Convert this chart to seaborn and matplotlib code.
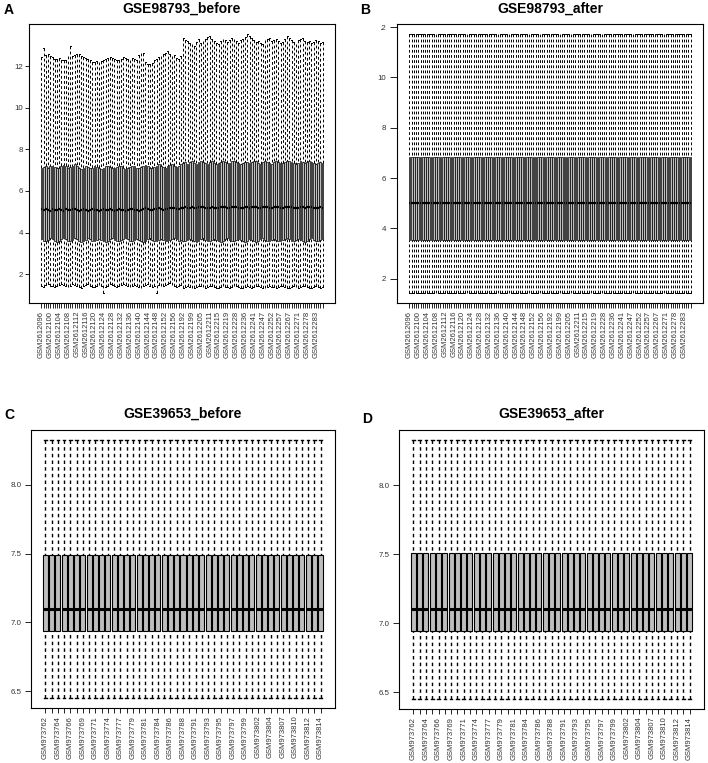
import numpy as np
import pandas as pd
import matplotlib
matplotlib.use("Agg")
import matplotlib.pyplot as plt
from matplotlib.transforms import Bbox, TransformedBbox
import seaborn as sns

plt.rcParams['font.family'] = ['Liberation Sans', 'DejaVu Sans']
plt.rcParams['lines.scale_dashes'] = False

# ---- GSE98793 (128 arrays) ----
gse98793_ids = ['GSM26120%02d' % k for k in range(96, 100)] + ['GSM2612%03d' % k for k in range(100, 160)] + \
    ['GSM2612%03d' % k for k in [
        192, 193, 195, 197, 199, 200, 202, 203, 205, 207, 208, 210, 211, 212, 213, 214,
        215, 216, 217, 218, 219, 221, 224, 226, 228, 230, 232, 234, 236, 237, 238, 240,
        241, 243, 244, 245, 247, 248, 250, 251, 252, 253, 255, 256, 257, 259, 262, 264,
        267, 268, 269, 270, 271, 273, 275, 276, 278, 279, 280, 282, 283, 284, 285, 287]]

before_max = [
    12.45, 12.85, 12.55, 12.60, 12.50, 12.45, 12.35, 12.35, 12.40, 12.30, 12.30, 12.30,
    12.50, 12.95, 12.50, 12.55, 12.60, 12.60, 12.50, 12.45, 12.40, 12.35, 12.30, 12.20,
    12.20, 12.25, 12.20, 12.25, 12.30, 12.35, 12.40, 12.45, 12.40, 12.35, 12.30, 12.30, 12.35, 12.45, 12.40,
    12.35, 12.30, 12.40, 12.35, 12.30, 12.55, 12.65, 12.65, 12.20, 12.10, 12.10, 12.15, 12.30, 12.35, 12.45,
    12.50, 12.60, 12.65, 12.70, 12.60, 12.50, 12.55, 12.40, 12.35, 12.50,
    13.35, 13.25, 13.20, 13.10, 13.05, 12.95, 13.15, 13.30, 13.10, 13.20, 13.30, 13.40,
    13.45, 13.30, 13.20, 13.10, 13.05, 13.20, 13.30, 13.25, 13.15, 13.25, 13.35, 13.30, 13.20, 13.10,
    13.25, 13.30, 13.40, 13.52, 13.45, 13.35, 13.25, 13.15, 13.20, 13.10, 13.05, 13.25, 13.30, 13.35, 13.20,
    13.25, 13.30, 13.20, 13.10, 13.15, 13.30, 13.45, 13.35, 13.25, 13.15, 13.05, 13.25, 13.30, 13.35,
    13.20, 13.15, 13.20, 13.10, 13.15, 13.25, 13.20, 13.10, 13.15]
before_q3 = [
    7.10, 7.15, 7.20, 7.12, 7.18, 7.22, 7.15, 7.08, 7.12, 7.20, 7.25, 7.18, 7.10, 7.15, 7.22, 7.28,
    7.20, 7.12, 7.05, 7.10, 7.18, 7.15, 7.08, 7.12, 7.20, 7.15, 7.10, 7.05, 7.12, 7.18, 7.22, 7.15,
    7.10, 7.08, 7.15, 7.20, 7.18, 7.12, 7.05, 7.10, 7.15, 7.22, 7.18, 7.10, 7.08, 7.15, 7.20, 7.25,
    7.18, 7.12, 7.08, 7.15, 7.22, 7.28, 7.20, 7.15, 7.10, 7.18, 7.25, 7.30, 7.22, 7.15, 7.20, 7.28,
    7.35, 7.40, 7.32, 7.38, 7.42, 7.35, 7.30, 7.38, 7.45, 7.40, 7.35, 7.32, 7.38, 7.42, 7.36, 7.30,
    7.35, 7.40, 7.44, 7.38, 7.33, 7.36, 7.42, 7.46, 7.40, 7.35, 7.30, 7.36, 7.40, 7.38, 7.34, 7.40,
    7.45, 7.42, 7.36, 7.32, 7.38, 7.43, 7.40, 7.35, 7.32, 7.38, 7.44, 7.40, 7.36, 7.33, 7.38, 7.42,
    7.46, 7.40, 7.35, 7.32, 7.36, 7.42, 7.38, 7.34, 7.38, 7.44, 7.40, 7.35, 7.30, 7.36, 7.40, 7.34]
before_med = [
    5.12, 5.08, 5.15, 5.10, 5.05, 5.12, 5.10, 5.08, 5.14, 5.10, 5.06, 5.12, 5.08, 5.10, 5.15, 5.12,
    5.08, 5.05, 5.10, 5.12, 5.08, 5.06, 5.10, 5.14, 5.10, 5.08, 5.05, 5.10, 5.12, 5.08, 5.10, 5.14,
    5.10, 5.06, 5.08, 5.12, 5.10, 5.08, 5.05, 5.10, 5.12, 5.15, 5.10, 5.08, 5.06, 5.10, 5.12, 5.16,
    5.12, 5.10, 5.08, 5.12, 5.15, 5.18, 5.14, 5.10, 5.12, 5.15, 5.18, 5.20, 5.16, 5.12, 5.15, 5.18,
    5.20, 5.22, 5.18, 5.20, 5.24, 5.20, 5.18, 5.22, 5.25, 5.22, 5.20, 5.18, 5.20, 5.23, 5.20, 5.18,
    5.20, 5.22, 5.25, 5.22, 5.18, 5.20, 5.23, 5.25, 5.22, 5.20, 5.18, 5.20, 5.22, 5.21, 5.19, 5.22,
    5.24, 5.22, 5.20, 5.18, 5.21, 5.24, 5.22, 5.20, 5.18, 5.21, 5.24, 5.22, 5.20, 5.18, 5.21, 5.23,
    5.25, 5.22, 5.20, 5.18, 5.20, 5.23, 5.21, 5.19, 5.21, 5.24, 5.22, 5.20, 5.18, 5.20, 5.22, 5.20]
before_q1 = [
    3.70, 3.62, 3.58, 3.65, 3.72, 3.68, 3.60, 3.55, 3.62, 3.70, 3.75, 3.68, 3.60, 3.58, 3.65, 3.72,
    3.68, 3.62, 3.56, 3.60, 3.66, 3.72, 3.68, 3.62, 3.58, 3.64, 3.70, 3.66, 3.60, 3.56, 3.62, 3.68,
    3.72, 3.66, 3.60, 3.58, 3.64, 3.70, 3.74, 3.68, 3.62, 3.58, 3.64, 3.70, 3.66, 3.60, 3.56, 3.62,
    3.68, 3.72, 3.66, 3.60, 3.58, 3.64, 3.70, 3.66, 3.62, 3.58, 3.64, 3.70, 3.74, 3.68, 3.62, 3.66,
    3.62, 3.58, 3.64, 3.70, 3.66, 3.60, 3.56, 3.62, 3.68, 3.72, 3.66, 3.60, 3.58, 3.64, 3.70, 3.66,
    3.60, 3.56, 3.62, 3.68, 3.72, 3.66, 3.62, 3.58, 3.64, 3.70, 3.66, 3.60, 3.56, 3.62, 3.68, 3.64,
    3.60, 3.56, 3.62, 3.68, 3.72, 3.66, 3.60, 3.58, 3.64, 3.70, 3.66, 3.62, 3.58, 3.64, 3.70, 3.74,
    3.68, 3.62, 3.58, 3.64, 3.70, 3.66, 3.60, 3.56, 3.62, 3.68, 3.72, 3.66, 3.60, 3.58, 3.64, 3.68]
before_min = [
    1.45, 1.40, 1.48, 1.52, 1.46, 1.42, 1.38, 1.44, 1.50, 1.54, 1.48, 1.42, 1.40, 1.46, 1.52, 1.50,
    1.44, 1.40, 1.36, 1.42, 1.48, 1.52, 1.46, 1.40, 1.38, 1.44, 1.50, 1.46, 1.12, 1.40, 1.46, 1.52,
    1.48, 1.42, 1.38, 1.44, 1.50, 1.54, 1.48, 1.42, 1.38, 1.44, 1.50, 1.46, 1.40, 1.36, 1.42, 1.48,
    1.52, 1.46, 1.40, 1.44, 1.12, 1.50, 1.46, 1.42, 1.48, 1.52, 1.56, 1.50, 1.44, 1.40, 1.46, 1.50,
    1.35, 1.38, 1.42, 1.40, 1.36, 1.34, 1.38, 1.42, 1.45, 1.40, 1.36, 1.38, 1.42, 1.44, 1.40, 1.36,
    1.34, 1.38, 1.42, 1.40, 1.37, 1.35, 1.38, 1.42, 1.44, 1.40, 1.36, 1.34, 1.38, 1.42, 1.40, 1.36,
    1.38, 1.42, 1.45, 1.40, 1.36, 1.34, 1.38, 1.42, 1.40, 1.37, 1.35, 1.38, 1.42, 1.44, 1.40, 1.36,
    1.34, 1.38, 1.42, 1.40, 1.36, 1.38, 1.42, 1.45, 1.40, 1.36, 1.34, 1.38, 1.42, 1.40, 1.36, 1.38]

# after normalisation every array has the same distribution
after_stats = [1.44, 3.56, 5.00, 6.84, 11.72]   # min, q1, median, q3, max

# ---- GSE39653 (45 arrays) ----
gse39653_ids = ['GSM973%d' % k for k in [
    762, 763, 764, 765, 766, 768, 769, 770, 771, 773, 774, 776, 777, 778, 779,
    780, 781, 783, 784, 785, 786, 787, 788, 790, 791, 792, 793, 794, 795, 796,
    797, 798, 799, 801, 802, 803, 804, 806, 807, 809, 810, 811, 812, 813, 814]]
c_before_stats = [6.45, 6.935, 7.10, 7.49, 8.33]
c_after_stats = [6.45, 6.945, 7.10, 7.51, 8.33]

BOX_GREY = '#bebebe'
W, H = 708, 763


def box_panel(rect, names, lo, q1, med, q3, hi, ylim, yticks, ylabels, label_step,
              dash, lw, wlw, med_lw, tick_len, tick_pad, title, letter, letter_xy, title_pad):
    l, t, r, b = rect
    ax = fig.add_axes([l / W, 1 - b / H, (r - l) / W, (b - t) / H])
    df = pd.DataFrame({
        'sample': np.repeat(names, 5),
        'value': np.column_stack([lo, q1, med, q3, hi]).ravel(),
    })
    sns.boxplot(data=df, x='sample', y='value', order=names, whis=(0, 100),
                color=BOX_GREY, saturation=1, linecolor='black', linewidth=lw,
                width=0.8, fliersize=0, ax=ax,
                whiskerprops=dict(linestyle=(0, dash), linewidth=wlw, gid='whisker'),
                medianprops=dict(linewidth=med_lw, color='black'),
                capprops=dict(linewidth=wlw))
    # R draws the dashed whisker starting from the end of the whisker
    for line in ax.lines:
        if line.get_gid() == 'whisker':
            x, y = line.get_data()
            line.set_data(x[::-1], y[::-1])
    n = len(names)
    ax.set_xlim(-0.5 - 0.04 * n, n - 0.5 + 0.04 * n)
    ax.set_ylim(*ylim)
    ax.set_xticks(range(n))
    ax.set_xticklabels([s if i % label_step == 0 else '' for i, s in enumerate(names)],
                       rotation=90, fontsize=5.5, color='#333333')
    ax.set_yticks(yticks)
    ax.set_yticklabels(ylabels, fontsize=5.7, color='#333333')
    ax.tick_params(axis='x', length=3.5, width=0.6, pad=2)
    ax.tick_params(axis='y', length=tick_len, width=0.6, pad=tick_pad)
    ax.set_xlabel('')
    ax.set_ylabel('')
    for sp in ax.spines.values():
        sp.set_linewidth(0.8)
        sp.set_color('black')
    ax.set_title(title, fontsize=10, fontweight='bold', pad=title_pad)
    fig.text(letter_xy[0] / W, 1 - letter_xy[1] / H, letter, fontsize=10,
             fontweight='bold', ha='left', va='center')
    return ax


fig = plt.figure(figsize=(W / 100, H / 100), dpi=100)

box_panel((29, 24, 335, 303), gse98793_ids, before_min, before_q1, before_med, before_q3, before_max,
          (0.62, 14.02), [2, 4, 6, 8, 10, 12], ['2', '4', '6', '8', '10', '12'], 4,
          (2.0, 1.7), 0.5, 0.7, 1.6, 2.6, 1.5, 'GSE98793_before', 'A', (4, 10), 8)

nb = len(gse98793_ids)
axb = box_panel((397, 24, 703, 303), gse98793_ids,
                [after_stats[0]] * nb, [after_stats[1]] * nb, [after_stats[2]] * nb,
                [after_stats[3]] * nb, [after_stats[4]] * nb,
                (1.04, 12.12), [2, 4, 6, 8, 10, 12], ['2', '4', '6', '8', '10', '12'], 4,
                (2.0, 1.7), 0.5, 0.7, 1.6, 4.7, 2.9, 'GSE98793_after', 'B', (360, 10), 8)
# the "1" of 12 is cut off by the panel edge in the original
clip = TransformedBbox(Bbox([[381 / W, 0], [1, 1]]), fig.transFigure)
top_label = axb.get_yticklabels()[-1]
top_label.set_clip_box(clip)
top_label.set_clip_on(True)

nc = len(gse39653_ids)
box_panel((31, 430, 335, 708), gse39653_ids,
          *[[v] * nc for v in c_before_stats],
          ylim=(6.377, 8.40), yticks=[6.5, 7.0, 7.5, 8.0], ylabels=['6.5', '7.0', '7.5', '8.0'],
          label_step=2, dash=(2.5, 2.3), lw=0.8, wlw=1.0, med_lw=2.2, tick_len=4.1, tick_pad=2.9,
          title='GSE39653_before', letter='C', letter_xy=(4, 415), title_pad=9)

box_panel((399, 430, 704, 709), gse39653_ids,
          *[[v] * nc for v in c_after_stats],
          ylim=(6.377, 8.40), yticks=[6.5, 7.0, 7.5, 8.0], ylabels=['6.5', '7.0', '7.5', '8.0'],
          label_step=2, dash=(2.5, 2.3), lw=0.8, wlw=1.0, med_lw=2.2, tick_len=4.1, tick_pad=2.9,
          title='GSE39653_after', letter='D', letter_xy=(362, 419), title_pad=9)

fig.savefig('out.png', dpi=100)
